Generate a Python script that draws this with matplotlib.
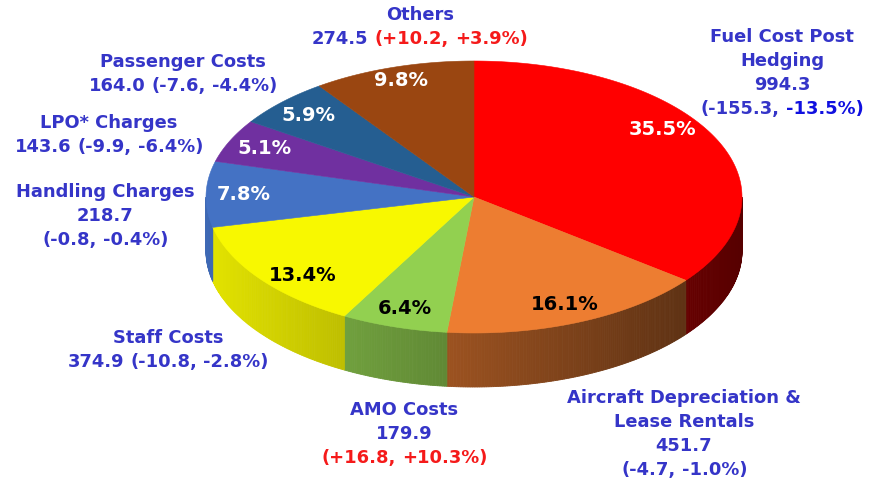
import numpy as np
import matplotlib.pyplot as plt
from matplotlib.patches import Polygon
from matplotlib.colors import to_rgb

# cost breakdown, slices go clockwise from 12 o'clock
names = ['Fuel Cost Post Hedging', 'Aircraft Depreciation & Lease Rentals',
         'AMO Costs', 'Staff Costs', 'Handling Charges', 'LPO* Charges',
         'Passenger Costs', 'Others']
costs = [994.3, 451.7, 179.9, 374.9, 218.7, 143.6, 164.0, 274.5]
changes = [-155.3, -4.7, 16.8, -10.8, -0.8, -9.9, -7.6, 10.2]
change_pcts = [-13.5, -1.0, 10.3, -2.8, -0.4, -6.4, -4.4, 3.9]

top_colors = ['#FF0000', '#ED7D31', '#92D050', '#F8F800', '#4472C4',
              '#7030A0', '#255E91', '#9A4611']
pct_colors = ['white', 'black', 'black', 'black', 'white', 'white',
              'white', 'white']

BLUE = '#3535C8'
RED = '#F51A1A'

W, H = 872, 483
cx, cy, rx, ry, depth = 474, 197, 268, 136, 54

fig = plt.figure(figsize=(W / 100, H / 100), dpi=100)
ax = fig.add_axes([0, 0, 1, 1])
ax.set_xlim(0, W)
ax.set_ylim(H, 0)
ax.axis('off')

vals = np.array(costs)
total = vals.sum()
sweep = vals / total * 360
ends = 90 - np.cumsum(sweep)
starts = ends + sweep


def edge(theta):
    t = np.radians(theta)
    return cx + rx * np.cos(t), cy - ry * np.sin(t)


def shade(x):
    f = 0.92 - 0.58 * (x - (cx - rx)) / (2 * rx)
    return float(np.clip(f, 0.3, 1))


# side walls (only the front half is visible)
for i in range(len(vals)):
    a0, a1 = ends[i], starts[i]
    lo, hi = max(a0, -180), min(a1, 0)
    if lo >= hi:
        continue
    base = np.array(to_rgb(top_colors[i]))
    steps = np.linspace(lo, hi, max(int((hi - lo) * 2), 2) + 1)
    for s0, s1 in zip(steps[:-1], steps[1:]):
        x0, y0 = edge(s0)
        x1, y1 = edge(s1)
        c = base * shade((x0 + x1) / 2)
        ax.add_patch(Polygon([[x0, y0], [x1, y1], [x1, y1 + depth],
                              [x0, y0 + depth]], closed=True,
                             facecolor=c, edgecolor=c, lw=0.6))

# top faces
for i in range(len(vals)):
    th = np.linspace(starts[i], ends[i], 200)
    xs, ys = edge(th)
    pts = np.column_stack([np.r_[cx, xs], np.r_[cy, ys]])
    ax.add_patch(Polygon(pts, closed=True, facecolor=top_colors[i],
                         edgecolor=top_colors[i], lw=0.4))

# percentage labels on the slices
for i in range(len(vals)):
    mid = (starts[i] + ends[i]) / 2
    if i == 0:
        mid += 9
    elif i == 3:
        mid += 5
    t = np.radians(mid)
    r = 0.86 if i != 7 else 0.9
    ax.text(cx + r * rx * np.cos(t), cy - r * ry * np.sin(t),
            f'{100 * vals[i] / total:.1f}%', color=pct_colors[i],
            fontsize=14, fontweight='bold', ha='center', va='center')

renderer = fig.canvas.get_renderer()


def width_of(s, fs):
    t = ax.text(0, 0, s, fontsize=fs, fontweight='bold')
    w = t.get_window_extent(renderer).width
    t.remove()
    return w


def line(xc, y, runs, fs=12.9):
    space = width_of('a a', fs) - width_of('aa', fs)
    ws = [width_of(s, fs) for s, _ in runs]
    x = xc - (sum(ws) + space * (len(runs) - 1)) / 2
    for (s, c), w in zip(runs, ws):
        ax.text(x, y, s, color=c, fontsize=fs, fontweight='bold',
                ha='left', va='center')
        x += w + space


def value_runs(i, pct_color=None):
    c = RED if changes[i] > 0 else BLUE
    return [(f'({changes[i]:+.1f},', c),
            (f'{change_pcts[i]:+.1f}%)', pct_color or c)]


val = [f'{v:.1f}' for v in costs]

blocks = [
    (782, 37, [[('Fuel Cost Post', BLUE)], [('Hedging', BLUE)],
               [(val[0], BLUE)], value_runs(0, '#1010E0')]),
    (684, 398, [[('Aircraft Depreciation &', BLUE)], [('Lease Rentals', BLUE)],
                [(val[1], BLUE)], value_runs(1)]),
    (404, 410, [[('AMO Costs', BLUE)], [(val[2], BLUE)], value_runs(2)]),
    (168, 338, [[('Staff Costs', BLUE)], [(val[3], BLUE)] + value_runs(3)]),
    (105, 192, [[('Handling Charges', BLUE)], [(val[4], BLUE)],
                value_runs(4)]),
    (109, 123, [[('LPO* Charges', BLUE)], [(val[5], BLUE)] + value_runs(5)]),
    (183, 62, [[('Passenger Costs', BLUE)], [(val[6], BLUE)] + value_runs(6)]),
    (420, 15, [[('Others', BLUE)], [(val[7], BLUE)] + value_runs(7)]),
]

for xc, y0, lines in blocks:
    for k, runs in enumerate(lines):
        line(xc, y0 + k * 24, runs)

fig.savefig('out.png', dpi=100)
